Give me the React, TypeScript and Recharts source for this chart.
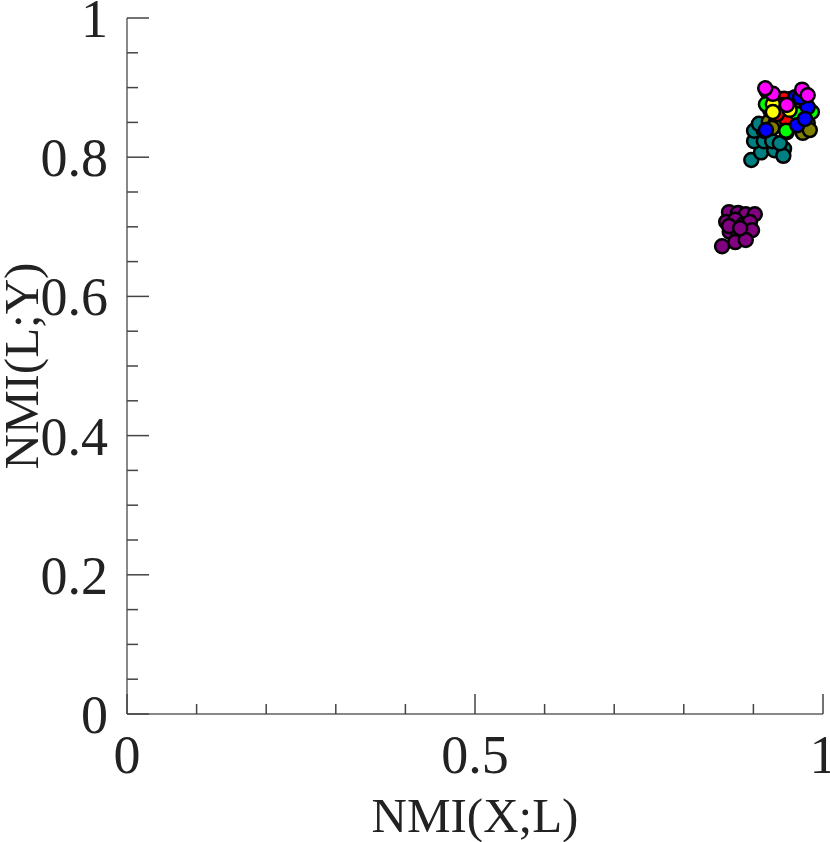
import React from "react";
import { ScatterChart, Scatter, XAxis, YAxis } from "recharts";

const FONT = '"Liberation Serif", "Times New Roman", serif';
const TEXT = "#222";
const AXIS = "#888";

const X_TICKS = [0, 0.1, 0.2, 0.3, 0.4, 0.5, 0.6, 0.7, 0.8, 0.9, 1];
const X_LABELS: Record<string, string> = { "0": "0", "0.5": "0.5", "1": "1" };
const Y_TICKS = [0, 0.05, 0.1, 0.15, 0.2, 0.25, 0.3, 0.35, 0.4, 0.45, 0.5, 0.55, 0.6, 0.65, 0.7, 0.75, 0.8, 0.85, 0.9, 0.95, 1];
const Y_LABELS: Record<string, string> = { "0": "0", "0.2": "0.2", "0.4": "0.4", "0.6": "0.6", "0.8": "0.8", "1": "1" };

// [NMI(X;L), NMI(L;Y)] per run, grouped by method colour
const purple = [
  [0.865, 0.721], [0.878, 0.72], [0.889, 0.718], [0.902, 0.718], [0.861, 0.707],
  [0.874, 0.71], [0.885, 0.703], [0.895, 0.707], [0.866, 0.693], [0.878, 0.691],
  [0.889, 0.691], [0.898, 0.695], [0.874, 0.678], [0.889, 0.681], [0.855, 0.672],
  [0.865, 0.701], [0.881, 0.698],
];
const teal = [
  [0.897, 0.796], [0.911, 0.807], [0.93, 0.81], [0.944, 0.812], [0.943, 0.802],
  [0.901, 0.823], [0.915, 0.823], [0.927, 0.823], [0.938, 0.82], [0.901, 0.838],
  [0.915, 0.838], [0.908, 0.848],
];
const olive = [
  [0.922, 0.851], [0.932, 0.849], [0.927, 0.842], [0.957, 0.875], [0.96, 0.858],
  [0.964, 0.846], [0.971, 0.835], [0.978, 0.849], [0.981, 0.839], [0.948, 0.836],
  [0.924, 0.868], [0.943, 0.865], [0.955, 0.884], [0.938, 0.878],
];
const red = [[0.944, 0.884], [0.947, 0.855], [0.943, 0.875], [0.92, 0.894], [0.934, 0.862]];
const green = [[0.918, 0.876], [0.947, 0.838], [0.963, 0.862], [0.984, 0.865]];
const yellow = [[0.928, 0.876], [0.928, 0.865], [0.952, 0.868]];
const blue = [[0.918, 0.839], [0.963, 0.846], [0.978, 0.872], [0.96, 0.886], [0.974, 0.855], [0.967, 0.886]];
const magenta = [[0.928, 0.891], [0.97, 0.897], [0.978, 0.889], [0.948, 0.875], [0.917, 0.899]];

const groups: [number[][], string][] = [
  [purple, "#800080"],
  [teal, "#008080"],
  [olive, "#808000"],
  [red, "#ff0000"],
  [green, "#00ff00"],
  [yellow, "#ffff00"],
  [blue, "#0000ff"],
  [magenta, "#ff00ff"],
];

const toRows = (pts: number[][]) => pts.map(([x, y]) => ({ x, y }));

function BottomTick(props: any) {
  const { x, y, payload } = props;
  const lab = X_LABELS[String(payload.value)];
  return (
    <g>
      <line x1={x} y1={y} x2={x} y2={y - (lab ? 20 : 10)} stroke="#444" strokeWidth={1.5} />
      {lab && (
        <text x={x} y={y + 59} textAnchor="middle" fontSize={54} fontFamily={FONT} fill={TEXT}>
          {lab}
        </text>
      )}
    </g>
  );
}

function TopTick(props: any) {
  const { x, y, payload } = props;
  const lab = X_LABELS[String(payload.value)];
  return <line x1={x} y1={y} x2={x} y2={y + (lab ? 20 : 10)} stroke="#444" strokeWidth={1.5} />;
}

function LeftTick(props: any) {
  const { x, y, payload } = props;
  const lab = Y_LABELS[String(payload.value)];
  return (
    <g>
      <line x1={x} y1={y} x2={x + (lab ? 22 : 11)} y2={y} stroke="#444" strokeWidth={1.5} />
      {lab && (
        <text x={x - 19} y={y + 19} textAnchor="end" fontSize={54} fontFamily={FONT} fill={TEXT}>
          {lab}
        </text>
      )}
    </g>
  );
}

function RightTick(props: any) {
  const { x, y, payload } = props;
  const lab = Y_LABELS[String(payload.value)];
  return <line x1={x} y1={y} x2={x - (lab ? 22 : 11)} y2={y} stroke="#444" strokeWidth={1.5} />;
}

const Dot = (fill: string) => (props: any) => (
  <circle cx={props.cx} cy={props.cy} r={7} fill={fill} stroke="#000" strokeWidth={2.5} />
);

export default function App() {
  const axisLine = { stroke: AXIS, strokeWidth: 2 };
  return (
    <div style={{ position: "absolute", left: 0, top: 0, width: 830, height: 842, background: "#fff" }}>
      <ScatterChart width={830} height={842} margin={{ top: 18, right: 7, bottom: 0, left: 0 }}>
        <XAxis
          xAxisId="b"
          type="number"
          dataKey="x"
          domain={[0, 1]}
          ticks={X_TICKS}
          interval={0}
          allowDataOverflow
          height={128}
          tickSize={0}
          tickMargin={0}
          tickLine={false}
          axisLine={axisLine}
          tick={(p: any) => <BottomTick {...p} />}
          label={{
            content: (lp: any) => {
              const vb = lp.viewBox;
              return (
                <text x={vb.x + vb.width / 2} y={832} textAnchor="middle" fontSize={49} fontFamily={FONT} fill={TEXT}>
                  NMI(X;L)
                </text>
              );
            },
          }}
        />
        <XAxis
          xAxisId="t"
          orientation="top"
          type="number"
          dataKey="x"
          domain={[0, 1]}
          ticks={X_TICKS}
          interval={0}
          allowDataOverflow
          height={0}
          tickSize={0}
          tickMargin={0}
          tickLine={false}
          axisLine={axisLine}
          tick={(p: any) => <TopTick {...p} />}
        />
        <YAxis
          yAxisId="l"
          type="number"
          dataKey="y"
          domain={[0, 1]}
          ticks={Y_TICKS}
          interval={0}
          allowDataOverflow
          width={127}
          tickSize={0}
          tickMargin={0}
          tickLine={false}
          axisLine={axisLine}
          tick={(p: any) => <LeftTick {...p} />}
          label={{
            content: (lp: any) => {
              const vb = lp.viewBox;
              const cy = vb.y + vb.height / 2;
              return (
                <text
                  x={38}
                  y={cy}
                  transform={`rotate(-90, 38, ${cy})`}
                  textAnchor="middle"
                  fontSize={49}
                  fontFamily={FONT}
                  fill={TEXT}
                >
                  NMI(L;Y)
                </text>
              );
            },
          }}
        />
        <YAxis
          yAxisId="r"
          orientation="right"
          type="number"
          dataKey="y"
          domain={[0, 1]}
          ticks={Y_TICKS}
          interval={0}
          allowDataOverflow
          width={0}
          tickSize={0}
          tickMargin={0}
          tickLine={false}
          axisLine={axisLine}
          tick={(p: any) => <RightTick {...p} />}
        />
        {groups.map(([pts, color], i) => (
          <Scatter
            key={i}
            xAxisId="b"
            yAxisId="l"
            data={toRows(pts)}
            shape={Dot(color)}
            isAnimationActive={false}
          />
        ))}
      </ScatterChart>
    </div>
  );
}
